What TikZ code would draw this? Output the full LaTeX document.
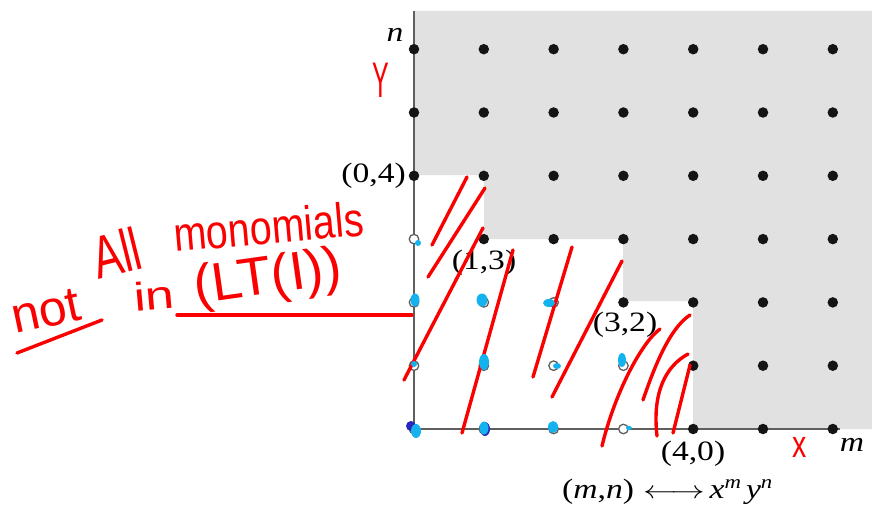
\documentclass[tikz,border=0pt]{standalone}
\usepackage{fontspec}
\setmainfont{Liberation Serif}[FakeStretch=1.2]
\newfontfamily\hand{Liberation Sans}
\definecolor{grayreg}{RGB}{225,225,225}
\definecolor{axisgray}{RGB}{95,95,95}
\definecolor{marker}{RGB}{20,178,238}
\definecolor{darkmark}{RGB}{40,40,190}
\definecolor{pen}{RGB}{250,0,0}
\newcommand{\supit}[1]{\raisebox{10pt}{\fontsize{19}{19}\selectfont\textit{#1}}}
\tikzset{
  lat/.style={circle, inner sep=0pt, minimum size=10.5pt},
  filled/.style={lat, fill=black!92},
  open/.style={lat, minimum size=9.5pt, draw=axisgray, line width=1.3pt, fill=white},
  coordlabel/.style={font=\fontsize{28}{30}\selectfont, inner sep=0pt},
  penstroke/.style={draw=pen, line width=3.4pt, line cap=round},
  handtext/.style={text=pen, inner sep=0pt},
  blob/.style={fill=marker},
  axisline/.style={draw=axisgray, line width=2.2pt}
}
\begin{document}
\begin{tikzpicture}[x=1pt,y=-1pt]
\useasboundingbox (0,0) rectangle (872,508);
% shaded region
\fill[grayreg] (414,11) -- (872,11) -- (872,429) -- (693,429) -- (693,301)
  -- (623,301) -- (623,239) -- (484,239) -- (484,175) -- (414,175) -- cycle;
% axes
\draw[axisline] (414,11) -- (414,430);
\draw[axisline] (413,429) -- (840,429);
% lattice points
\foreach \i in {0,...,6} {
  \foreach \j in {0,...,6} {
    \pgfmathtruncatemacro\inI{(\j>=4) || (\i>=1 && \j>=3) || (\i>=3 && \j>=2) || (\i>=4)}
    \ifnum\inI=1
      \node[filled] (p\i\j) at ({414+69.8*\i},{429-63.3*\j}) {};
    \else
      \node[open] (p\i\j) at ({414+69.8*\i},{429-63.3*\j}) {};
    \fi
  }
}
% labels
\node[coordlabel, anchor=east] (l04) at (406,176) {(0,4)};
\node[coordlabel] (l13) at (484,263) {(1,3)};
\node[coordlabel] (l32) at (625,325) {(3,2)};
\node[coordlabel] (l40) at (693,454) {(4,0)};
\node[coordlabel] (ln) at (395,35) {\textit{n}};
\node[coordlabel] (lm) at (852,445) {\textit{m}};
\node[coordlabel, anchor=west] (corr) at (562,492) {(\textit{m},\textit{n})\hspace{9pt}\scalebox{1.35}[1]{$\longleftrightarrow$}\hspace{5pt}\textit{x}\supit{m}\hspace{5pt}\textit{y}\supit{n}};
% red hatching
\draw[penstroke] (467,177) -- (432,245);
\draw[penstroke] (485,188) -- (428,277);
\draw[penstroke] (483,228) -- (404,380);
\draw[penstroke] (513,250) -- (462,433);
\draw[penstroke] (572,247) -- (533,377);
\draw[penstroke] (622,261) -- (552,397);
\draw[penstroke] (660,329) .. controls (642,342) and (615,392) .. (602,446);
\draw[penstroke] (690,315) .. controls (670,328) and (655,365) .. (643,400);
\draw[penstroke] (688,354) .. controls (666,366) and (652,392) .. (657,436);
\draw[penstroke] (690,365) -- (673,433);
% blue marks
\fill[blob] (418,243) circle[radius=3];
\fill[blob] (415,300) ellipse[x radius=4.5, y radius=6.5];
\fill[blob] (414,364) circle[radius=3];
\fill[darkmark] (411,426) circle[radius=5];
\fill[blob] (416,431) ellipse[x radius=5, y radius=7];
\fill[darkmark] (485,429) ellipse[x radius=5, y radius=7];
\fill[blob] (484,428) ellipse[x radius=4.5, y radius=6.5];
\fill[blob] (484,362) ellipse[x radius=5, y radius=8];
\fill[blob] (482,300) ellipse[x radius=5.5, y radius=6.5];
\fill[blob] (549,303) ellipse[x radius=6, y radius=4];
\fill[blob] (557,366) ellipse[x radius=4, y radius=3];
\fill[blob] (553,427) ellipse[x radius=5, y radius=6];
\fill[blob] (622,360) ellipse[x radius=4, y radius=7];
\fill[blob] (629,428) ellipse[x radius=3, y radius=2];
% handwritten note
\node[handtext, anchor=base west, rotate=12, font=\hand\fontsize{50}{50}\selectfont] (w1) at (15,334) {not};
\node[handtext, anchor=base west, rotate=14, font=\hand\fontsize{60}{60}\selectfont] (w2) at (98,280) {\scalebox{0.72}[1]{All}};
\node[handtext, anchor=base west, rotate=5, font=\hand\fontsize{48}{48}\selectfont] (w3) at (175,252) {\scalebox{0.82}[1]{monomials}};
\node[handtext, anchor=base west, rotate=5, font=\hand\fontsize{40}{40}\selectfont] (w4) at (135,312) {\scalebox{1.3}[1]{in}};
\node[handtext, anchor=base west, rotate=8, font=\hand\fontsize{54}{54}\selectfont] (w5) at (196,304) {\scalebox{1.02}[1]{(LT(I))}};
\node[handtext, font=\hand\fontsize{50}{50}\selectfont] (wy) at (381,80) {\scalebox{0.5}[1]{Y}};
\node[handtext, font=\hand\fontsize{38}{38}\selectfont] (wx) at (800,447) {\scalebox{0.75}[1]{x}};
\draw[penstroke] (17,353) -- (102,320);
\coordinate (ulend) at (412,315);
\draw[penstroke] (177,315) -- (ulend);
\end{tikzpicture}
\end{document}
